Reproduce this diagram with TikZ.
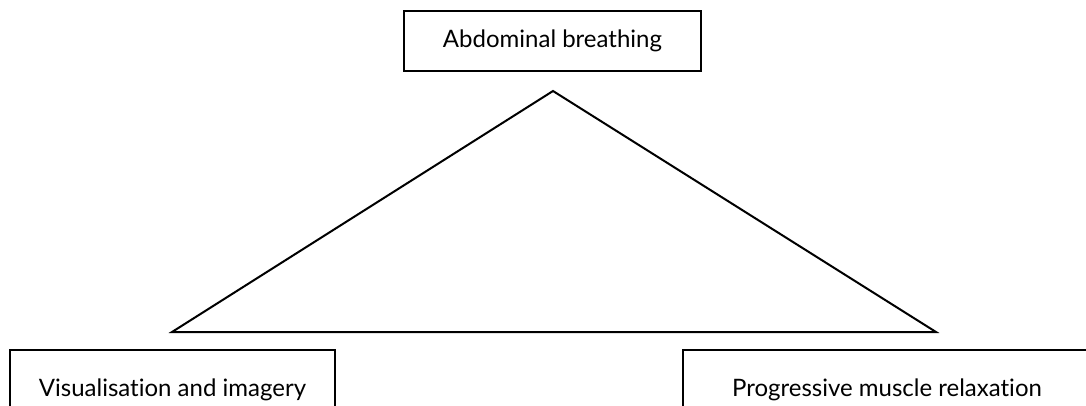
\documentclass[tikz,border=0pt]{standalone}
\usepackage{fontspec}
\setmainfont[RawFeature=-liga]{Lato}
\usetikzlibrary{positioning}

\begin{document}
\begin{tikzpicture}[x=1pt,y=-1pt]
  \tikzset{box/.style={draw,line width=2.5pt,inner sep=0pt,font=\fontsize{24}{28}\selectfont},
    tri/.style={line width=2pt,line join=miter}}
  \useasboundingbox (0,0) rectangle (1086,405);
  \clip (0,0) rectangle (1086,405);
  % boxes
  \node[box,minimum width=297pt,minimum height=60pt] (breath) at (552.5,41) {Abdominal breathing};
  \node[box,minimum width=325pt,minimum height=80pt] (visual) at (172.5,390) {Visualisation and imagery};
  \node[box,minimum width=408pt,minimum height=80pt] (muscle) at (887,390) {Progressive muscle relaxation};
  % triangle
  \coordinate (apex) at (553,91);
  \coordinate (baseL) at (172,332);
  \coordinate (baseR) at (936,332);
  \draw[tri] (apex) -- (baseL) -- (baseR) -- cycle;
\end{tikzpicture}
\end{document}
